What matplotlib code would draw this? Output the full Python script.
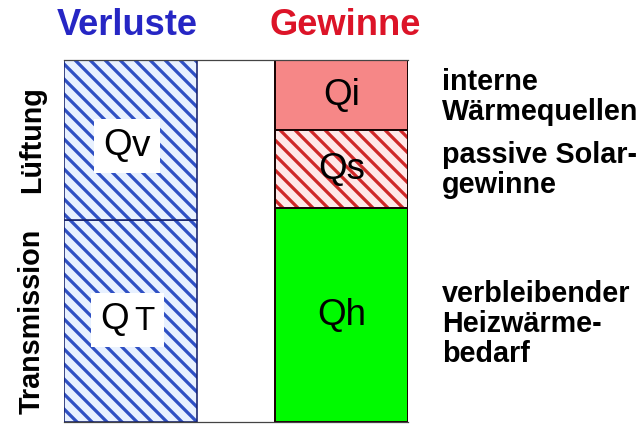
import matplotlib
matplotlib.use("Agg")
import matplotlib.pyplot as plt
from matplotlib.offsetbox import TextArea, HPacker, AnnotationBbox
from matplotlib.transforms import blended_transform_factory

# Data (relative heights)
groups = ["Verluste", "Gewinne"]
loss_main = ["Q", "Q"]
loss_sub = ["T", "v"]                 # bottom -> top
loss_values = [202, 160]
gain_labels = ["Qh", "Qs", "Qi"]      # bottom -> top
gain_values = [214, 78, 70]
side_labels = ["Transmission", "Lüftung"]
gain_texts = ["verbleibender\nHeizwärme-\nbedarf", "passive Solar-\ngewinne", "interne\nWärmequellen"]

plt.rcParams['font.family'] = ['Liberation Sans', 'DejaVu Sans']
plt.rcParams['hatch.linewidth'] = 2.6

DPI = 90
W, H = 643, 425
fig = plt.figure(figsize=(W/DPI, H/DPI), dpi=DPI)
fig.patch.set_facecolor('white')

total = sum(loss_values)
ax = fig.add_axes([64/W, 3/H, 344/W, 362/H])
bw = 0.629
ax.set_xlim(-bw/2, 1 + bw/2)
ax.set_ylim(0, total)
ax.set_facecolor('white')

# Left stacked bar (losses): hatch layer + outline layer
bottom = 0
loss_pos = []
for v in loss_values:
    ax.bar(0, v, bottom=bottom, width=bw, color='#e8f1ff', edgecolor='#2f50c4',
           hatch='\\\\', linewidth=0)
    ax.bar(0, v, bottom=bottom, width=bw, fill=False, edgecolor='#18246e', linewidth=1.3)
    loss_pos.append(bottom + v/2)
    bottom += v

# Right stacked bar (gains)
bottom = 0
gain_pos = []
styles = [dict(color='#00fa00', hatch=None, hc='none'),
          dict(color='#ffe8e8', hatch='\\\\', hc='#cf2828'),
          dict(color='#f68787', hatch=None, hc='none')]
for v, st in zip(gain_values, styles):
    ax.bar(1, v, bottom=bottom, width=bw, color=st['color'], edgecolor=st['hc'],
           hatch=st['hatch'], linewidth=0)
    ax.bar(1, v, bottom=bottom, width=bw, fill=False, edgecolor='#1a0505', linewidth=1.6)
    gain_pos.append(bottom + v/2)
    bottom += v

for s in ['left', 'right']:
    ax.spines[s].set_visible(False)
for s in ['top', 'bottom']:
    ax.spines[s].set_color('#444444')
    ax.spines[s].set_linewidth(1.0)
ax.set_xticks([])
ax.set_yticks([])

# Q labels of the loss bar (white boxed)
qfs = 29.5
sub_sizes = [qfs * 0.9, qfs]
offsets = [1, -6]
for m, sub, y, ssz, off in zip(loss_main, loss_sub, loss_pos, sub_sizes, offsets):
    ta = TextArea(m, textprops=dict(fontsize=qfs, color='black'))
    tb = TextArea(sub, textprops=dict(fontsize=ssz, color='black'))
    pk = HPacker(children=[ta, tb], align='baseline', pad=7.5, sep=4 if sub == 'T' else 0)
    ab = AnnotationBbox(pk, (-0.015, y + off), xycoords='data', frameon=True, pad=0.0,
                        bboxprops=dict(boxstyle='square,pad=0', fc='white', ec='none'),
                        zorder=5)
    ax.add_artist(ab)

# Q labels of the gain bar
for lab, y in zip(gain_labels, gain_pos):
    ax.text(1, y, lab, fontsize=qfs, ha='center', va='center', zorder=5)

# Titles
fig.text(127.5/W, 1 - 35/H, groups[0], fontsize=29, fontweight='bold', color='#2626c4',
         ha='center', va='baseline')
fig.text(345.5/W, 1 - 35/H, groups[1], fontsize=29, fontweight='bold', color='#dc1428',
         ha='center', va='baseline')

# Side labels (rotated)
tr_left = blended_transform_factory(fig.transFigure, ax.transData)
for lab, y in zip(side_labels, loss_pos):
    fig.text(32/W, y, lab, rotation=90, fontsize=23, fontweight='bold',
             ha='center', va='center', transform=tr_left)

# Right-hand descriptions
for txt, y in zip(gain_texts, [gain_pos[0] - 9, gain_pos[1] - 1, gain_pos[2] - 2]):
    fig.text(442/W, y, txt, fontsize=23, fontweight='bold',
             ha='left', va='center', linespacing=1.1, transform=tr_left)

fig.savefig("out.png", dpi=DPI, facecolor='white')
